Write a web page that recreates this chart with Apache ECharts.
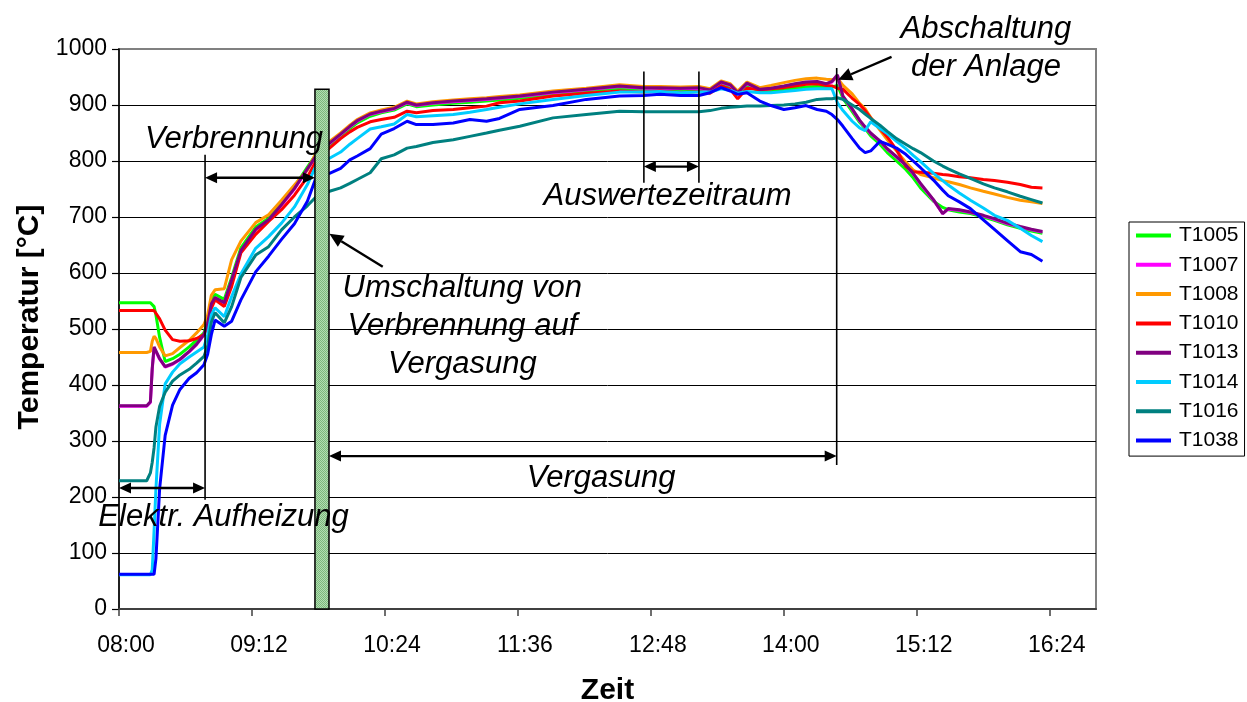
<!DOCTYPE html>
<html>
<head>
<meta charset="utf-8">
<title>Temperaturverlauf</title>
<script src="https://cdn.jsdelivr.net/npm/echarts@6/dist/echarts.min.js"></script>
<style>
  html, body { margin: 0; padding: 0; background: #fff; }
  #chart { width: 1247px; height: 702px; }
</style>
</head>
<body>
<div id="chart"></div>
<script>
// Time axis: minutes after 08:00
const minutesSince0800 = [
  0, 15, 17, 18, 19, 20, 22, 25, 29, 33,
  38, 42, 46, 48, 50, 52, 57, 61, 66, 74,
  81, 88, 95, 102, 107, 110, 114, 120, 125, 129,
  136, 142, 149, 156, 161, 170, 181, 190, 199, 206,
  217, 235, 253, 271, 284, 293, 304, 314, 320, 326,
  331, 335, 340, 347, 353, 360, 366, 372, 378, 383,
  386, 389, 392, 397, 401, 404, 407, 412, 416, 421,
  426, 430, 434, 441, 446, 449, 455, 461, 468, 474,
  481, 488, 494, 500
];

// Measured temperatures in °C, one list per thermocouple
const T1005 = [
  547, 547, 547, 546, 540, 525, 485, 442, 447, 455,
  468, 480, 493, 515, 550, 562, 553, 592, 645, 682,
  698, 725, 754, 789, 813, 819, 829, 845, 858, 868,
  880, 886, 891, 902, 897, 900, 903, 905, 907, 909,
  912, 919, 925, 930, 928, 928, 927, 927, 924, 938,
  932, 920, 934, 925, 926, 928, 930, 932, 933, 932,
  932, 935, 912, 888, 869, 858, 845, 830, 815, 800,
  785, 770, 752, 728, 717, 713, 709, 706, 700, 694,
  686, 680, 675, 671
];
const T1007 = [
  362, 362, 369, 428, 466, 463, 446, 432, 437, 445,
  459, 472, 489, 509, 544, 555, 546, 587, 639, 677,
  694, 721, 750, 785, 810, 821, 831, 847, 861, 871,
  883, 888, 893, 904, 899, 903, 906, 908, 910, 912,
  915, 922, 927, 933, 930, 930, 929, 930, 926, 940,
  935, 921, 938, 927, 929, 933, 937, 940, 941, 937,
  941, 952, 915, 892, 872, 860, 849, 835, 821, 807,
  792, 777, 759, 730, 706, 714, 712, 708, 702, 696,
  688, 682, 677, 673
];
const T1008 = [
  458, 458, 460, 478, 487, 483, 468, 452, 456, 467,
  480, 493, 508, 525, 560, 570, 572, 624, 657, 690,
  704, 730, 757, 784, 816, 825, 835, 850, 864, 874,
  886, 891, 896, 907, 902, 906, 909, 911, 913, 915,
  918, 925, 930, 936, 933, 933, 932, 933, 929, 943,
  938, 925, 941, 931, 935, 940, 944, 947, 948, 946,
  945, 948, 935, 920, 903, 893, 878, 855, 838, 818,
  798, 784, 776, 770, 765, 763, 758, 752, 746, 741,
  735, 730, 727, 724
];
const T1010 = [
  533, 533, 533, 533, 533, 530, 518, 498, 481, 478,
  479, 483, 490, 505, 537, 552, 540, 576, 636, 669,
  692, 713, 739, 771, 802, 812, 823, 840, 852, 860,
  870, 874, 878, 889, 886, 890, 892, 895, 898, 904,
  907, 916, 921, 925, 923, 925, 922, 924, 921, 934,
  928, 911, 930, 927, 929, 931, 934, 937, 938, 935,
  934, 930, 928, 912, 901, 890, 877, 858, 843, 820,
  790, 781, 780, 778, 776, 775, 772, 770, 767, 765,
  762, 758, 753, 752
];
const T1013 = [
  363, 363, 370, 430, 468, 465, 447, 433, 438, 446,
  460, 473, 490, 510, 545, 556, 547, 588, 640, 678,
  695, 722, 751, 786, 811, 822, 832, 848, 862, 872,
  884, 889, 894, 905, 900, 904, 907, 909, 911, 913,
  916, 923, 928, 934, 931, 931, 930, 931, 927, 941,
  936, 922, 939, 928, 930, 934, 938, 941, 942, 938,
  942, 954, 916, 893, 873, 861, 850, 836, 822, 808,
  793, 778, 760, 731, 706, 715, 713, 709, 703, 697,
  689, 683, 678, 674
];
const T1014 = [
  61, 61, 61, 70, 140, 215, 330, 402, 423, 438,
  450, 459, 468, 490, 525, 538, 522, 558, 598, 644,
  665, 689, 718, 758, 794, 800, 805, 816, 830, 840,
  857, 861, 866, 883, 879, 881, 883, 887, 892, 896,
  902, 910, 917, 923, 923, 924, 922, 923, 923, 929,
  926, 921, 924, 922, 922, 924, 926, 928, 929, 929,
  929, 904, 890, 871, 859, 854, 870, 858, 849, 835,
  822, 810, 799, 778, 765, 757, 743, 730, 716, 703,
  694, 680, 667, 656
];
const T1016 = [
  229, 229, 243, 262, 288, 325, 362, 387, 407, 418,
  428, 439, 451, 470, 512, 529, 511, 540, 592, 632,
  647, 677, 700, 720, 737, 741, 746, 752, 760, 767,
  779, 804, 811, 823, 826, 833, 838, 844, 850, 855,
  862, 877, 883, 889, 888, 888, 888, 888, 890, 894,
  896, 897, 898, 898, 899, 900, 902, 905, 910, 911,
  911, 913, 910, 900, 892, 884, 876, 864, 853, 840,
  830, 822, 815, 800, 791, 786, 777, 769, 759, 752,
  745, 737, 731, 725
];
const T1038 = [
  62, 62, 62, 62, 62, 90, 215, 310, 364, 392,
  412, 422, 436, 455, 490, 516, 505, 514, 552, 602,
  630, 660, 688, 728, 773, 776, 778, 787, 802, 809,
  822, 848, 858, 871, 865, 865, 868, 874, 871, 876,
  892, 899, 910, 916, 917, 919, 917, 917, 922, 931,
  925, 919, 922, 907, 899, 892, 895, 899, 892, 889,
  883, 874, 862, 840, 823, 815, 818, 835, 830, 823,
  812, 800, 788, 766, 748, 738, 727, 715, 695, 678,
  658, 638, 633, 621
];

const seriesNames = ['T1005', 'T1007', 'T1008', 'T1010', 'T1013', 'T1014', 'T1016', 'T1038'];
const seriesValues = [T1005, T1007, T1008, T1010, T1013, T1014, T1016, T1038];
const seriesColors = ['#00FF00', '#FF00FF', '#FF9900', '#FF0000', '#800080', '#00CCFF', '#008080', '#0000FF'];

// Axis ticks every 72 minutes, labelled as clock time
const timeTickStep = 72;
const timeAxisEnd = 529;

// Switch from combustion to gasification (minutes) and its bar height (°C)
const switchover = { from: 106.1, to: 113.7, top: 928 };

// Vertical phase boundaries: time and temperature extent
const phaseMarkers = [
  { at: 46.6, from: 195, to: 811 },
  { at: 284.2, from: 761, to: 960 },
  { at: 314.0, from: 761, to: 960 },
  { at: 388.6, from: 257, to: 966 }
];
// Double-headed arrows spanning a phase
const spanArrows = [
  { from: 0, to: 46.6, level: 216 },
  { from: 46.6, to: 106.1, level: 770 },
  { from: 284.2, to: 314.0, level: 790 },
  { from: 113.7, to: 388.6, level: 273 }
];
// Single arrows pointing at an event
const pointerArrows = [
  { tail: [142.8, 611], tip: [113.9, 670] },
  { tail: [418.3, 986], tip: [389.4, 945] }
];
// Phase and event captions
const phaseLabels = [
  { text: 'Verbrennung', at: [62.3, 838] },
  { text: 'Elektr. Aufheizung', at: [56.6, 163] },
  { text: 'Umschaltung von\nVerbrennung auf\nVergasung', at: [185.9, 504] },
  { text: 'Vergasung', at: [261, 234] },
  { text: 'Auswertezeitraum', at: [297, 736] },
  { text: 'Abschaltung\nder Anlage', at: [469.4, 1002] }
];

const FONT = '"Liberation Sans", Arial, Helvetica, sans-serif';
const CAPTION_FONT = 'italic 31px ' + FONT;

function clockLabel(v) {
  if (Math.abs(v % timeTickStep) > 1e-6) return '';
  const total = 8 * 60 + v;
  const h = Math.floor(total / 60);
  const m = total % 60;
  return String(h).padStart(2, '0') + ':' + String(m).padStart(2, '0');
}

function arrowHead(tip, from, len, half) {
  const dx = tip[0] - from[0], dy = tip[1] - from[1];
  const d = Math.hypot(dx, dy) || 1;
  const ux = dx / d, uy = dy / d;
  const bx = tip[0] - ux * len, by = tip[1] - uy * len;
  return [[tip[0], tip[1]], [bx - uy * half, by + ux * half], [bx + uy * half, by - ux * half]];
}

// Dithered green fill for the switchover bar
const dither = document.createElement('canvas');
dither.width = 2; dither.height = 2;
const dctx = dither.getContext('2d');
dctx.fillStyle = '#b2ddb2'; dctx.fillRect(0, 0, 2, 2);
dctx.fillStyle = '#7cb87c'; dctx.fillRect(0, 0, 1, 1); dctx.fillRect(1, 1, 1, 1);

const lineSeries = seriesNames.map((name, i) => ({
  name,
  type: 'line',
  data: minutesSince0800.map((t, k) => [t, seriesValues[i][k]]),
  showSymbol: false,
  symbol: 'none',
  lineStyle: { width: 3, color: seriesColors[i] },
  itemStyle: { color: seriesColors[i] },
  emphasis: { disabled: true },
  z: 2
}));

const switchoverSeries = {
  type: 'custom',
  name: 'switchover',
  z: 5,
  clip: false,
  silent: true,
  data: [[switchover.from, switchover.top, switchover.to]],
  renderItem: (params, api) => {
    const p1 = api.coord([switchover.from, switchover.top]);
    const p2 = api.coord([switchover.to, 0]);
    return {
      type: 'rect',
      shape: { x: p1[0], y: p1[1], width: p2[0] - p1[0], height: p2[1] - p1[1] },
      style: { fill: { image: dither, repeat: 'repeat' }, stroke: '#000', lineWidth: 1.5 }
    };
  }
};

const markerSeries = {
  type: 'custom',
  name: 'markers',
  z: 6,
  clip: false,
  silent: true,
  data: phaseMarkers.map(m => [m.at, m.from, m.to]),
  renderItem: (params, api) => {
    const m = phaseMarkers[params.dataIndex];
    const a = api.coord([m.at, m.from]);
    const b = api.coord([m.at, m.to]);
    return {
      type: 'line',
      shape: { x1: a[0], y1: a[1], x2: b[0], y2: b[1] },
      style: { stroke: '#000', lineWidth: 1.6 }
    };
  }
};

const spanSeries = {
  type: 'custom',
  name: 'spans',
  z: 6,
  clip: false,
  silent: true,
  data: spanArrows.map(s => [s.from, s.level, s.to]),
  renderItem: (params, api) => {
    const s = spanArrows[params.dataIndex];
    const a = api.coord([s.from, s.level]);
    const b = api.coord([s.to, s.level]);
    const len = 12, half = 5.5;
    return {
      type: 'group',
      children: [
        { type: 'line', shape: { x1: a[0] + len - 1, y1: a[1], x2: b[0] - len + 1, y2: b[1] },
          style: { stroke: '#000', lineWidth: 2.4 } },
        { type: 'polygon', shape: { points: arrowHead(a, b, len, half) }, style: { fill: '#000' } },
        { type: 'polygon', shape: { points: arrowHead(b, a, len, half) }, style: { fill: '#000' } }
      ]
    };
  }
};

const pointerSeries = {
  type: 'custom',
  name: 'pointers',
  z: 6,
  clip: false,
  silent: true,
  data: pointerArrows.map(p => [p.tip[0], p.tip[1]]),
  renderItem: (params, api) => {
    const p = pointerArrows[params.dataIndex];
    const tail = api.coord(p.tail);
    const tip = api.coord(p.tip);
    const head = arrowHead(tip, tail, 14, 6.5);
    const base = [(head[1][0] + head[2][0]) / 2, (head[1][1] + head[2][1]) / 2];
    return {
      type: 'group',
      children: [
        { type: 'line', shape: { x1: tail[0], y1: tail[1], x2: base[0], y2: base[1] },
          style: { stroke: '#000', lineWidth: 2.4 } },
        { type: 'polygon', shape: { points: head }, style: { fill: '#000' } }
      ]
    };
  }
};

const captionSeries = {
  type: 'custom',
  name: 'captions',
  z: 7,
  clip: false,
  silent: true,
  data: phaseLabels.map(l => l.at),
  renderItem: (params, api) => {
    const l = phaseLabels[params.dataIndex];
    const p = api.coord(l.at);
    return {
      type: 'text',
      x: p[0],
      y: p[1],
      style: {
        text: l.text,
        font: CAPTION_FONT,
        fill: '#000',
        align: 'center',
        verticalAlign: 'middle',
        lineHeight: 38
      }
    };
  }
};

const chart = echarts.init(document.getElementById('chart'), null, { renderer: 'canvas' });
chart.setOption({
  animation: false,
  backgroundColor: '#fff',
  textStyle: { fontFamily: FONT },
  grid: {
    left: 119, right: 151, top: 49, bottom: 93,
    show: true, borderColor: '#808080', borderWidth: 2, backgroundColor: '#fff',
    containLabel: false, outerBoundsMode: 'none'
  },
  legend: {
    data: seriesNames,
    orient: 'vertical',
    left: 1129,
    top: 222,
    width: 110,
    padding: [3, 6, 5, 7],
    itemGap: 8.3,
    itemWidth: 35,
    itemHeight: 4,
    icon: 'rect',
    borderColor: '#000',
    borderWidth: 1,
    backgroundColor: '#fff',
    selectedMode: false,
    textStyle: { fontFamily: FONT, fontSize: 21, color: '#000', lineHeight: 21, padding: [0, 0, 0, 3] }
  },
  xAxis: {
    type: 'value',
    min: 0,
    max: timeAxisEnd,
    interval: timeTickStep,
    name: 'Zeit',
    nameLocation: 'middle',
    nameGap: 67,
    nameTextStyle: { fontFamily: FONT, fontSize: 30, fontWeight: 'bold', color: '#000' },
    axisLine: { show: true, onZero: false, lineStyle: { color: '#404040', width: 2 } },
    axisTick: { show: true, length: 7, inside: false, lineStyle: { color: '#404040', width: 1.5 } },
    axisLabel: {
      formatter: clockLabel, fontFamily: FONT, fontSize: 23, color: '#000', margin: 25,
      padding: [0, 0, 0, 14], showMaxLabel: false
    },
    splitLine: { show: false }
  },
  yAxis: {
    type: 'value',
    min: 0,
    max: 1000,
    interval: 100,
    name: 'Temperatur [°C]',
    nameLocation: 'middle',
    nameRotate: 90,
    nameGap: 70,
    nameTextStyle: { fontFamily: FONT, fontSize: 30, fontWeight: 'bold', color: '#000', padding: [0, 0, 0, 24] },
    axisLine: { show: true, lineStyle: { color: '#000', width: 1.5 } },
    axisTick: { show: true, length: 7, inside: false, lineStyle: { color: '#000', width: 1.2 } },
    axisLabel: { formatter: v => String(v), fontFamily: FONT, fontSize: 23, color: '#000', margin: 12 },
    splitLine: { show: true, showMaxLine: false, lineStyle: { color: '#000', width: 1 } }
  },
  series: [
    ...lineSeries,
    switchoverSeries,
    markerSeries,
    spanSeries,
    pointerSeries,
    captionSeries
  ]
});
</script>
</body>
</html>
